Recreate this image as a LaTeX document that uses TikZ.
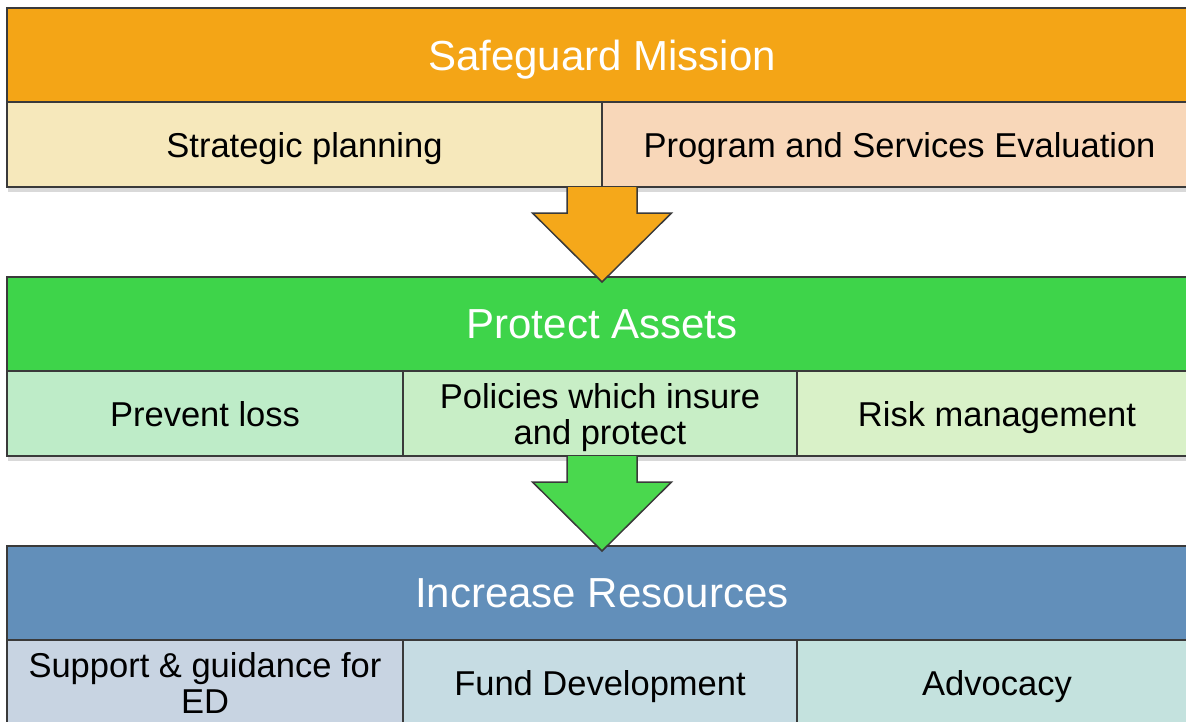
\documentclass[tikz,border=0pt]{standalone}
\usepackage{fontspec}
\setmainfont{Liberation Sans}
\usetikzlibrary{positioning, calc, shadows}

\definecolor{boxline}{HTML}{3A3A3A}
\definecolor{missionorange}{HTML}{F4A516}
\definecolor{stratyellow}{HTML}{F6E8BB}
\definecolor{evalpeach}{HTML}{F8D7B9}
\definecolor{protectgreen}{HTML}{3ED44A}
\definecolor{preventgreen}{HTML}{BEECC8}
\definecolor{policygreen}{HTML}{C8EEC6}
\definecolor{riskgreen}{HTML}{D9F1C8}
\definecolor{resourceblue}{HTML}{628FBA}
\definecolor{supportblue}{HTML}{C8D4E2}
\definecolor{fundblue}{HTML}{C6DCE3}
\definecolor{advocacyblue}{HTML}{C4E2DE}
\definecolor{arroworange}{HTML}{F5A81A}
\definecolor{arrowgreen}{HTML}{4AD84E}

\begin{document}
\begin{tikzpicture}[x=1pt, y=1pt, node distance=0pt]

\tikzstyle{titlebar} = [rectangle, minimum width=1190pt, minimum height=94pt, inner sep=0pt, outer sep=0pt, text centered, text depth=0pt, draw=boxline, line width=1.5pt, text=white, font=\fontsize{42}{48}\selectfont]
\tikzstyle{subbox} = [rectangle, minimum height=85pt, inner sep=0pt, outer sep=0pt, align=center, text depth=0pt, draw=boxline, line width=1.5pt, text=black, font=\fontsize{34.5}{36}\selectfont, drop shadow={shadow xshift=1pt, shadow yshift=-5pt, opacity=0.3}]
\tikzstyle{blockarrow} = [draw=boxline, line width=1.5pt, line join=miter]

\useasboundingbox (0,0) rectangle (1186,-721);

% first block
\node (mission) [titlebar, fill=missionorange, anchor=north west] at (7,-8) {Safeguard Mission};
\node (strat) [subbox, fill=stratyellow, minimum width=595pt, below right=0pt and 0pt of mission.south west] {Strategic planning};
\node (progeval) [subbox, fill=evalpeach, minimum width=595pt, right=of strat] {Program and Services Evaluation};

% second block
\node (protect) [titlebar, fill=protectgreen, below right=90pt and 0pt of strat.south west] {Protect Assets};
\node (prevent) [subbox, fill=preventgreen, minimum width=396pt, below right=0pt and 0pt of protect.south west] {Prevent loss};
\node (policies) [subbox, fill=policygreen, minimum width=394pt, right=of prevent] {Policies which insure\\and protect};
\node (risk) [subbox, fill=riskgreen, minimum width=400pt, right=of policies] {Risk management};

% third block
\node (resources) [titlebar, fill=resourceblue, below right=90pt and 0pt of prevent.south west] {Increase Resources};
\node (support) [subbox, fill=supportblue, minimum width=396pt, below right=0pt and 0pt of resources.south west] {Support \& guidance for\\ED};
\node (funddev) [subbox, fill=fundblue, minimum width=394pt, right=of support] {Fund Development};
\node (advocacy) [subbox, fill=advocacyblue, minimum width=400pt, right=of funddev] {Advocacy};

% block arrows
\coordinate (arrowtop1) at (mission.south |- strat.south);
\coordinate (arrowtop2) at (protect.south |- policies.south);
\draw [blockarrow, fill=arroworange] ($(arrowtop1)+(-35,0)$) -- ++(0,-26) -- ++(-34.5,0) -- ($(protect.north)+(0,-5)$) -- ($(arrowtop1)+(69.5,-26)$) -- ++(-34.5,0) -- ++(0,26);
\draw [blockarrow, fill=arrowgreen] ($(arrowtop2)+(-35,0)$) -- ++(0,-26) -- ++(-34.5,0) -- ($(resources.north)+(0,-5)$) -- ($(arrowtop2)+(69.5,-26)$) -- ++(-34.5,0) -- ++(0,26);
\end{tikzpicture}
\end{document}
